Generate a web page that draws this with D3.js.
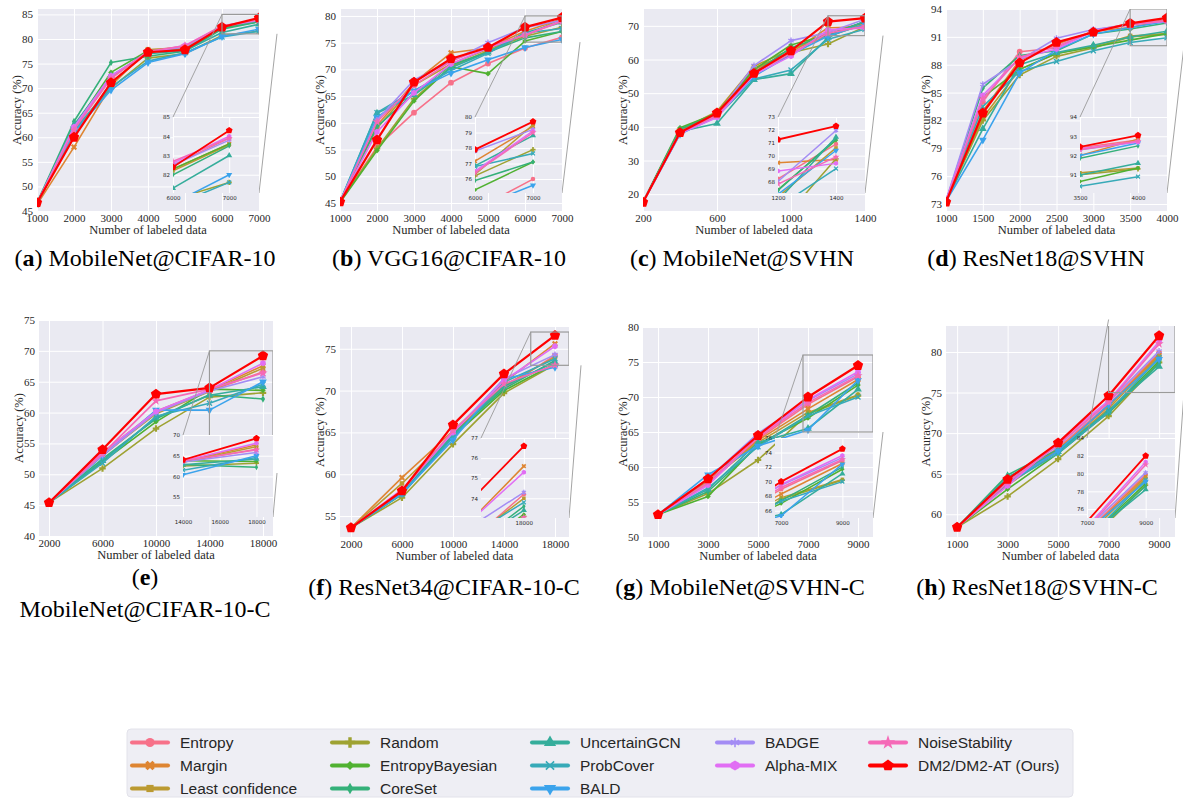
<!DOCTYPE html>
<html>
<head>
<meta charset="utf-8">
<script src="https://cdn.jsdelivr.net/npm/d3@7"></script>
<style>
  body { margin: 0; background: #fff; }
  svg { display: block; }
</style>
</head>
<body>
<div id="chart"></div>
<script>
// methods, in legend order (DM2 drawn last, on top)
const methods = ["Entropy", "Margin", "Least confidence", "Random", "EntropyBayesian", "CoreSet",
  "UncertainGCN", "ProbCover", "BALD", "BADGE", "Alpha-MIX", "NoiseStability", "DM2/DM2-AT (Ours)"];
const colors = ["#f77189", "#de8532", "#bb9a31", "#9ea232", "#50b131", "#34b079",
  "#35ad9b", "#37aab8", "#3ba3ec", "#a38cf4", "#e16ef4", "#f569b7", "#ff0000"];
const shapes = ["circle", "X", "square", "P", "D", "d", "^", "x", "v", "ast", "h", "*", "p"];

// (a) MobileNet@CIFAR-10
const xA = [1000, 2000, 3000, 4000, 5000, 6000, 7000];
const accA = [
  [46.5, 61.5, 72.0, 77.5, 78.5, 82.5, 83.9],
  [46.3, 58.0, 70.5, 77.8, 78.0, 82.3, 83.6],
  [46.5, 61.0, 70.8, 77.8, 78.3, 82.2, 83.55],
  [46.5, 61.0, 70.0, 76.1, 77.0, 80.7, 81.6],
  [46.6, 62.0, 73.2, 77.6, 77.8, 82.3, 83.6],
  [46.7, 63.2, 75.2, 76.5, 77.5, 82.0, 83.5],
  [46.6, 62.5, 72.5, 77.0, 77.6, 81.3, 83.0],
  [46.4, 61.5, 70.2, 75.5, 77.2, 80.4, 81.6],
  [46.5, 61.0, 69.6, 75.2, 77.0, 80.5, 82.0],
  [46.6, 62.0, 72.5, 77.3, 78.4, 82.5, 83.8],
  [46.5, 62.1, 72.5, 77.2, 78.7, 82.6, 84.0],
  [46.6, 61.5, 72.0, 77.5, 78.6, 82.7, 83.9],
  [46.7, 60.0, 71.1, 77.3, 77.8, 82.4, 84.3]
];
const xTicksA = [1000, 2000, 3000, 4000, 5000, 6000, 7000];
const yTicksA = [45, 50, 55, 60, 65, 70, 75, 80, 85];
const inXTicksA = [6000, 7000];
const inYTicksA = [82, 83, 84, 85];

// (b) VGG16@CIFAR-10
const xB = [1000, 2000, 3000, 4000, 5000, 6000, 7000];
const accB = [
  [45.2, 55.5, 61.9, 67.5, 71.1, 74.0, 76.0],
  [45.2, 59.5, 67.5, 73.1, 74.0, 77.15, 79.4],
  [45.2, 59.0, 67.0, 71.0, 73.8, 76.3, 79.5],
  [45.2, 55.2, 64.5, 70.5, 73.5, 76.2, 77.9],
  [45.1, 54.8, 64.1, 70.5, 69.2, 75.3, 77.1],
  [45.2, 59.3, 65.5, 70.8, 73.2, 75.9, 77.1],
  [45.2, 61.8, 65.2, 70.3, 73.2, 76.85, 78.8],
  [45.2, 61.9, 66.0, 69.8, 73.0, 76.8, 77.65],
  [45.2, 61.0, 66.0, 69.3, 71.8, 74.1, 75.6],
  [45.2, 60.5, 68.0, 71.5, 75.0, 77.8, 79.2],
  [45.2, 58.3, 65.6, 71.0, 74.0, 76.5, 79.1],
  [45.2, 60.2, 67.0, 71.5, 74.3, 76.4, 79.0],
  [45.2, 56.8, 67.6, 72.0, 74.1, 77.9, 79.7]
];
const xTicksB = [1000, 2000, 3000, 4000, 5000, 6000, 7000];
const yTicksB = [45, 50, 55, 60, 65, 70, 75, 80];
const inXTicksB = [6000, 7000];
const inYTicksB = [76, 77, 78, 79, 80];

// (c) MobileNet@SVHN
const xC = [200, 400, 600, 800, 1000, 1200, 1400];
const accC = [
  [17.6, 38.8, 43.5, 56.5, 61.5, 68.2, 70.9],
  [17.6, 38.5, 43.8, 57.0, 62.0, 69.45, 69.7],
  [17.6, 39.0, 44.6, 58.0, 63.0, 66.8, 70.6],
  [17.6, 39.2, 44.2, 57.5, 62.0, 64.6, 69.75],
  [17.7, 39.7, 44.0, 57.0, 64.3, 67.35, 71.2],
  [17.6, 39.3, 43.8, 56.0, 63.5, 67.3, 71.3],
  [17.6, 38.6, 41.0, 54.0, 55.8, 66.5, 71.45],
  [17.6, 38.0, 43.0, 54.2, 56.9, 66.0, 69.0],
  [17.6, 37.8, 43.2, 55.0, 61.5, 67.0, 70.4],
  [17.6, 38.5, 43.5, 58.2, 65.6, 68.0, 71.95],
  [17.6, 38.0, 42.8, 55.5, 61.0, 68.8, 69.4],
  [17.6, 38.3, 43.3, 56.0, 61.8, 67.8, 69.9],
  [17.6, 38.3, 44.1, 55.9, 62.6, 71.25, 72.3]
];
const xTicksC = [200, 600, 1000, 1400];
const yTicksC = [20, 30, 40, 50, 60, 70];
const inXTicksC = [1200, 1400];
const inYTicksC = [68, 69, 70, 71, 72, 73];

// (d) ResNet18@SVHN
const xD = [1000, 1500, 2000, 2500, 3000, 3500, 4000];
const accD = [
  [73.4, 84.0, 89.4, 89.8, 91.7, 92.4, 92.8],
  [73.3, 83.0, 88.5, 90.2, 91.6, 92.0, 92.85],
  [73.3, 82.3, 87.5, 89.2, 90.0, 91.1, 91.35],
  [73.3, 82.0, 86.9, 88.9, 89.8, 91.0, 91.3],
  [73.3, 84.5, 87.5, 89.2, 89.9, 90.65, 91.35],
  [73.3, 85.5, 89.0, 89.5, 91.3, 91.85, 92.5],
  [73.3, 81.1, 88.0, 89.3, 90.1, 90.98, 91.6],
  [73.3, 83.5, 87.3, 88.35, 89.5, 90.4, 90.9],
  [73.3, 79.9, 87.1, 89.6, 91.3, 92.0, 92.65],
  [73.4, 85.9, 88.5, 90.85, 91.8, 92.3, 92.7],
  [73.4, 84.7, 88.7, 89.7, 91.6, 92.35, 92.7],
  [73.3, 84.3, 88.8, 90.0, 91.6, 92.3, 92.75],
  [73.2, 82.8, 88.2, 90.4, 91.5, 92.45, 93.05]
];
const xTicksD = [1000, 1500, 2000, 2500, 3000, 3500, 4000];
const yTicksD = [73, 76, 79, 82, 85, 88, 91, 94];
const inXTicksD = [3500, 4000];
const inYTicksD = [91, 92, 93, 94];

// (e) MobileNet@CIFAR-10-C
const xE = [2000, 6000, 10000, 14000, 18000];
const accE = [
  [45.4, 53.0, 60.0, 63.5, 66.6],
  [45.4, 53.5, 60.2, 63.6, 67.6],
  [45.4, 53.2, 59.8, 63.4, 67.2],
  [45.4, 50.95, 57.4, 62.5, 63.2],
  [45.4, 52.0, 58.5, 63.8, 63.6],
  [45.4, 52.5, 59.0, 62.9, 62.2],
  [45.4, 52.2, 59.2, 62.8, 64.2],
  [45.4, 51.8, 59.4, 61.5, 64.6],
  [45.4, 53.0, 60.4, 60.4, 65.0],
  [45.4, 53.1, 60.0, 63.5, 65.8],
  [45.4, 53.5, 60.2, 63.7, 68.0],
  [45.4, 53.3, 61.9, 63.8, 66.4],
  [45.4, 54.0, 63.0, 64.0, 69.2]
];
const xTicksE = [2000, 6000, 10000, 14000, 18000];
const yTicksE = [40, 45, 50, 55, 60, 65, 70, 75];
const inXTicksE = [14000, 16000, 18000];
const inYTicksE = [55, 60, 65, 70];

// (f) ResNet34@CIFAR-10-C
const xF = [2000, 6000, 10000, 14000, 18000];
const accF = [
  [53.6, 57.8, 65.0, 70.3, 74.2],
  [53.6, 59.6, 65.2, 71.0, 75.6],
  [53.6, 58.9, 64.8, 70.6, 74.0],
  [53.6, 57.2, 63.6, 69.7, 73.1],
  [53.6, 57.6, 64.5, 70.0, 73.2],
  [53.6, 57.8, 64.8, 70.2, 73.6],
  [53.6, 57.7, 64.6, 70.5, 73.4],
  [53.6, 57.6, 64.4, 71.0, 73.8],
  [53.6, 57.7, 64.1, 71.4, 72.8],
  [53.6, 58.0, 65.0, 71.4, 74.3],
  [53.6, 58.2, 65.0, 71.2, 75.3],
  [53.6, 58.1, 65.2, 70.8, 73.05],
  [53.6, 58.0, 65.9, 72.0, 76.6]
];
const xTicksF = [2000, 6000, 10000, 14000, 18000];
const yTicksF = [55, 60, 65, 70, 75];
const inXTicksF = [18000];
const inYTicksF = [74, 75, 76, 77];

// (g) MobileNet@SVHN-C
const xG = [1000, 3000, 5000, 7000, 9000];
const accG = [
  [53.2, 57.5, 64.0, 68.95, 72.9],
  [53.2, 57.8, 63.8, 68.3, 72.5],
  [53.2, 58.0, 63.5, 67.8, 70.3],
  [53.2, 56.2, 61.0, 67.6, 70.2],
  [53.2, 55.8, 63.2, 67.0, 71.7],
  [53.2, 56.5, 63.0, 67.4, 72.0],
  [53.2, 56.8, 63.5, 65.5, 71.1],
  [53.2, 57.0, 62.9, 67.3, 70.0],
  [53.2, 58.9, 63.0, 65.3, 72.4],
  [53.2, 58.3, 64.8, 69.5, 73.3],
  [53.2, 57.4, 64.3, 69.6, 73.6],
  [53.2, 57.8, 64.2, 69.2, 73.05],
  [53.2, 58.3, 64.5, 70.0, 74.5]
];
const xTicksG = [1000, 3000, 5000, 7000, 9000];
const yTicksG = [50, 55, 60, 65, 70, 75, 80];
const inXTicksG = [7000, 9000];
const inYTicksG = [66, 68, 70, 72, 74, 76];

// (h) ResNet18@SVHN-C
const xH = [1000, 3000, 5000, 7000, 9000];
const accH = [
  [58.4, 63.8, 68.2, 73.5, 79.9],
  [58.4, 64.0, 68.0, 73.3, 79.7],
  [58.4, 63.6, 67.8, 73.0, 79.5],
  [58.4, 62.2, 66.8, 72.1, 78.7],
  [58.4, 63.1, 67.5, 72.6, 78.9],
  [58.4, 64.85, 68.0, 72.5, 78.6],
  [58.4, 64.6, 67.7, 72.8, 78.2],
  [58.4, 63.8, 67.5, 72.6, 79.3],
  [58.4, 63.9, 67.8, 73.5, 79.1],
  [58.4, 64.0, 68.5, 73.8, 80.1],
  [58.4, 63.5, 68.9, 74.0, 81.3],
  [58.4, 63.9, 68.6, 73.8, 81.0],
  [58.4, 64.3, 68.8, 74.6, 82.0]
];
const xTicksH = [1000, 3000, 5000, 7000, 9000];
const yTicksH = [60, 65, 70, 75, 80];
const inXTicksH = [7000, 9000];
const inYTicksH = [76, 78, 80, 82, 84];

// layout of each panel: plot box, inset box (pixels) and domains
const panels = [
  { id: "a", name: "MobileNet@CIFAR-10", xs: xA, acc: accA, box: [37, 9, 259, 211], xDom: [1000, 7000], yDom: [45, 86.1],
    xT: xTicksA, yT: yTicksA, inBox: [173, 117, 259, 193], inX: [6000, 7530], inY: [81.05, 85], inXT: inXTicksA, inYT: inYTicksA, dx: 18, cap: [145, 266] },
  { id: "b", name: "VGG16@CIFAR-10", xs: xB, acc: accB, box: [340, 9, 562, 211], xDom: [1000, 7000], yDom: [43.5, 81.3],
    xT: xTicksB, yT: yTicksB, inBox: [475, 117, 562, 193], inX: [6000, 7500], inY: [75.1, 80], inXT: inXTicksB, inYT: inYTicksB, dx: 18, cap: [449, 266] },
  { id: "c", name: "MobileNet@SVHN", xs: xC, acc: accC, box: [643, 9, 865, 211], xDom: [200, 1400], yDom: [15, 75],
    xT: xTicksC, yT: yTicksC, inBox: [778, 117, 865, 193], inX: [1200, 1500], inY: [67.1, 73], inXT: inXTicksC, inYT: inYTicksC, dx: 18, cap: [742, 266] },
  { id: "d", name: "ResNet18@SVHN", xs: xD, acc: accD, box: [946, 9, 1167, 211], xDom: [1000, 4000], yDom: [72.25, 94],
    xT: xTicksD, yT: yTicksD, inBox: [1080, 117, 1167, 193], inX: [3500, 4250], inY: [90.05, 94], inXT: inXTicksD, inYT: inYTicksD, dx: 17, cap: [1036, 266] },
  { id: "e", name: "MobileNet@CIFAR-10-C", xs: xE, acc: accE, box: [39, 320, 273, 536], xDom: [1250, 18750], yDom: [40, 75],
    xT: xTicksE, yT: yTicksE, inBox: [183, 435, 273, 517], inX: [14000, 18900], inY: [50.2, 70], inXT: inXTicksE, inYT: inYTicksE, dx: 4, cap: [145, 585], twoLine: true },
  { id: "f", name: "ResNet34@CIFAR-10-C", xs: xF, acc: accF, box: [340, 327, 569, 537], xDom: [1140, 19100], yDom: [52.5, 77.6],
    xT: xTicksF, yT: yTicksF, inBox: [481, 438, 569, 518], inX: [16100, 20000], inY: [73.02, 77], inXT: inXTicksF, inYT: inYTicksF, dx: 12, cap: [444, 595] },
  { id: "g", name: "MobileNet@SVHN-C", xs: xG, acc: accG, box: [643, 327, 873, 537], xDom: [400, 9600], yDom: [50, 80],
    xT: xTicksG, yT: yTicksG, inBox: [775, 438, 873, 518], inX: [6800, 10000], inY: [65, 76], inXT: inXTicksG, inYT: inYTicksG, dx: 10, cap: [740, 595] },
  { id: "h", name: "ResNet18@SVHN-C", xs: xH, acc: accH, box: [946, 326, 1175, 537], xDom: [560, 9630], yDom: [57.2, 83.2],
    xT: xTicksH, yT: yTicksH, inBox: [1087, 438, 1175, 518], inX: [7000, 10000], inY: [75, 84], inXT: inXTicksH, inYT: inYTicksH, dx: 9, cap: [1037, 595] }
];

const W = 1183, H = 800;
const serif = "'Liberation Serif', 'Times New Roman', serif";
const sans = "'Liberation Sans', Arial, sans-serif";
const svg = d3.select("#chart").append("svg").attr("width", W).attr("height", H);

const polygon = n => ({
  draw(ctx, size) {
    const r = Math.sqrt(size / (n / 2 * Math.sin(2 * Math.PI / n)));
    for (let k = 0; k < n; k++) {
      const a = -Math.PI / 2 + 2 * Math.PI * k / n;
      k ? ctx.lineTo(r * Math.cos(a), r * Math.sin(a)) : ctx.moveTo(r * Math.cos(a), r * Math.sin(a));
    }
    ctx.closePath();
  }
});

// returns path, rotation and whether the marker is stroked
function marker(i, size) {
  const s = shapes[i];
  const sym = (t, sz) => d3.symbol().type(t).size(sz)();
  switch (s) {
    case "circle": return { d: sym(d3.symbolCircle, size), rot: 0 };
    case "X": return { d: sym(d3.symbolCross, size * 0.9), rot: 45 };
    case "square": return { d: sym(d3.symbolSquare, size * 0.8), rot: 0 };
    case "P": return { d: sym(d3.symbolCross, size * 0.9), rot: 0 };
    case "D": return { d: sym(d3.symbolSquare, size * 0.6), rot: 45 };
    case "d": return { d: sym(d3.symbolDiamond, size * 0.6), rot: 0 };
    case "^": return { d: sym(d3.symbolTriangle, size), rot: 0 };
    case "x": return { d: sym(d3.symbolTimes || d3.symbolCross, size * 0.7), rot: d3.symbolTimes ? 0 : 45, stroke: !!d3.symbolTimes };
    case "v": return { d: sym(d3.symbolTriangle, size), rot: 180 };
    case "ast": return { d: sym(d3.symbolAsterisk || d3.symbolStar, size), rot: 0, stroke: !!d3.symbolAsterisk };
    case "h": return { d: sym(polygon(6), size), rot: 0 };
    case "*": return { d: sym(d3.symbolStar, size), rot: 0 };
    default: return { d: sym(polygon(5), size), rot: 0 };
  }
}

function drawSeries(g, x, y, xs, acc, opt) {
  acc.forEach((vals, i) => {
    const red = i === acc.length - 1;
    const pts = xs.map((xv, j) => [x(xv), y(vals[j])]);
    g.append("path")
      .attr("d", d3.line()(pts))
      .attr("fill", "none")
      .attr("stroke", colors[i])
      .attr("stroke-width", red ? opt.lwRed : opt.lw)
      .attr("stroke-linejoin", "round");
    const m = marker(i, red ? opt.msRed : opt.ms);
    g.append("g").selectAll("path").data(pts).join("path")
      .attr("transform", d => `translate(${d[0]},${d[1]}) rotate(${m.rot})`)
      .attr("d", m.d)
      .attr("fill", m.stroke ? "none" : colors[i])
      .attr("stroke", m.stroke ? colors[i] : "none")
      .attr("stroke-width", m.stroke ? 1.3 : 0);
  });
}

function styleAxis(a, font, size) {
  a.select(".domain").remove();
  a.selectAll(".tick line").attr("stroke", "#fff").attr("stroke-width", 1);
  a.selectAll(".tick text").attr("font-family", font).attr("font-size", size).attr("fill", "#262626");
}

function drawPanel(p) {
  const b = p.box;
  const g = svg.append("g");
  const x = d3.scaleLinear().domain(p.xDom).range([b[0], b[2]]);
  const y = d3.scaleLinear().domain(p.yDom).range([b[3], b[1]]);
  const w = b[2] - b[0], h = b[3] - b[1];

  g.append("rect").attr("x", b[0]).attr("y", b[1]).attr("width", w).attr("height", h).attr("fill", "#eaeaf2");
  g.append("g").attr("transform", `translate(0,${b[3]})`)
    .call(d3.axisBottom(x).tickValues(p.xT).tickSize(-h).tickSizeOuter(0).tickPadding(3).tickFormat(d3.format("d")))
    .call(a => styleAxis(a, serif, 11));
  g.append("g").attr("transform", `translate(${b[0]},0)`)
    .call(d3.axisLeft(y).tickValues(p.yT).tickSize(-w).tickSizeOuter(0).tickPadding(4).tickFormat(d3.format("d")))
    .call(a => styleAxis(a, serif, 11));

  g.append("text").attr("x", (b[0] + b[2]) / 2).attr("y", b[3] + 23)
    .attr("text-anchor", "middle").attr("font-family", serif).attr("font-size", 12.5).attr("fill", "#262626")
    .text("Number of labeled data");
  g.append("text").attr("transform", `translate(${b[0] - 20},${(b[1] + b[3]) / 2}) rotate(-90)`)
    .attr("dy", "0.35em").attr("text-anchor", "middle").attr("font-family", serif).attr("font-size", 12.5).attr("fill", "#262626")
    .text("Accuracy (%)");

  svg.append("clipPath").attr("id", "clip" + p.id).append("rect")
    .attr("x", b[0]).attr("y", b[1]).attr("width", w).attr("height", h);
  drawSeries(g.append("g").attr("clip-path", `url(#clip${p.id})`), x, y, p.xs, p.acc,
    { lw: 1.6, lwRed: 2.2, ms: 26, msRed: 70 });

  // zoom indicator rectangle (clipped to the plot) and connectors
  const rx0 = x(p.inX[0]), ry0 = y(p.inY[1]), ry1 = y(p.inY[0]);
  const rx1 = Math.min(x(p.inX[1]), b[2]);
  g.append("rect").attr("clip-path", `url(#clip${p.id})`)
    .attr("x", rx0).attr("y", ry0).attr("width", rx1 - rx0).attr("height", ry1 - ry0)
    .attr("fill", "none").attr("stroke", "#9a9a9a").attr("stroke-width", 1.2);
  const ib = p.inBox;
  g.append("line").attr("x1", rx0).attr("y1", ry0).attr("x2", ib[0]).attr("y2", ib[1])
    .attr("stroke", "#9a9a9a").attr("stroke-width", 0.9);
  g.append("line").attr("x1", b[2] + p.dx).attr("y1", Math.min(ry1, b[3])).attr("x2", ib[2]).attr("y2", ib[3])
    .attr("stroke", "#9a9a9a").attr("stroke-width", 0.9);

  // inset
  const ix = d3.scaleLinear().domain(p.inX).range([ib[0], ib[2]]);
  const iy = d3.scaleLinear().domain(p.inY).range([ib[3], ib[1]]);
  const iw = ib[2] - ib[0], ih = ib[3] - ib[1];
  const gi = svg.append("g");
  gi.append("rect").attr("x", ib[0]).attr("y", ib[1]).attr("width", iw).attr("height", ih).attr("fill", "#eaeaf2");
  gi.append("g").attr("transform", `translate(0,${ib[3]})`)
    .call(d3.axisBottom(ix).tickValues(p.inXT).tickSize(-ih).tickSizeOuter(0).tickPadding(3).tickFormat(d3.format("d")))
    .call(a => styleAxis(a, "'DejaVu Sans', sans-serif", 5.5));
  gi.append("g").attr("transform", `translate(${ib[0]},0)`)
    .call(d3.axisLeft(iy).tickValues(p.inYT).tickSize(-iw).tickSizeOuter(0).tickPadding(3).tickFormat(d3.format("d")))
    .call(a => styleAxis(a, "'DejaVu Sans', sans-serif", 5.5));
  svg.append("clipPath").attr("id", "iclip" + p.id).append("rect")
    .attr("x", ib[0]).attr("y", ib[1]).attr("width", iw).attr("height", ih);
  drawSeries(gi.append("g").attr("clip-path", `url(#iclip${p.id})`), ix, iy, p.xs, p.acc,
    { lw: 1.5, lwRed: 1.8, ms: 16, msRed: 30 });

  // caption
  const cap = svg.append("text").attr("font-family", serif).attr("font-size", 24).attr("fill", "#000")
    .attr("text-anchor", "middle").attr("x", p.cap[0]).attr("y", p.cap[1]);
  cap.append("tspan").text("(");
  cap.append("tspan").attr("font-weight", "bold").text(p.id);
  if (p.twoLine) {
    cap.append("tspan").text(")");
    svg.append("text").attr("font-family", serif).attr("font-size", 24).attr("fill", "#000")
      .attr("text-anchor", "middle").attr("x", p.cap[0]).attr("y", p.cap[1] + 32).text(p.name);
  } else {
    cap.append("tspan").text(") " + p.name);
  }
}

panels.forEach(drawPanel);

// legend: 5 columns, column sizes 3,3,3,2,2
const legX = [132, 332, 532, 717, 870];
const colSizes = [3, 3, 3, 2, 2];
const leg = svg.append("g");
leg.append("rect").attr("x", 127).attr("y", 729).attr("width", 946).attr("height", 68).attr("rx", 4)
  .attr("fill", "#eeeef4").attr("stroke", "#e2e2ea");
let idx = 0;
colSizes.forEach((n, c) => {
  for (let r = 0; r < n; r++, idx++) {
    const i = idx;
    const cy = 742.5 + r * 23, x0 = legX[c];
    leg.append("line").attr("x1", x0).attr("x2", x0 + 36).attr("y1", cy).attr("y2", cy)
      .attr("stroke", colors[i]).attr("stroke-width", 4).attr("stroke-linecap", "round");
    const m = marker(i, i === 12 ? 85 : 65);
    leg.append("path").attr("transform", `translate(${x0 + 18},${cy}) rotate(${m.rot})`).attr("d", m.d)
      .attr("fill", m.stroke ? "none" : colors[i]).attr("stroke", m.stroke ? colors[i] : "none").attr("stroke-width", 1.6);
    leg.append("text").attr("x", x0 + 48).attr("y", cy).attr("dy", "0.35em")
      .attr("font-family", sans).attr("font-size", 15.5).attr("fill", "#262626").text(methods[i]);
  }
});
</script>
</body>
</html>
